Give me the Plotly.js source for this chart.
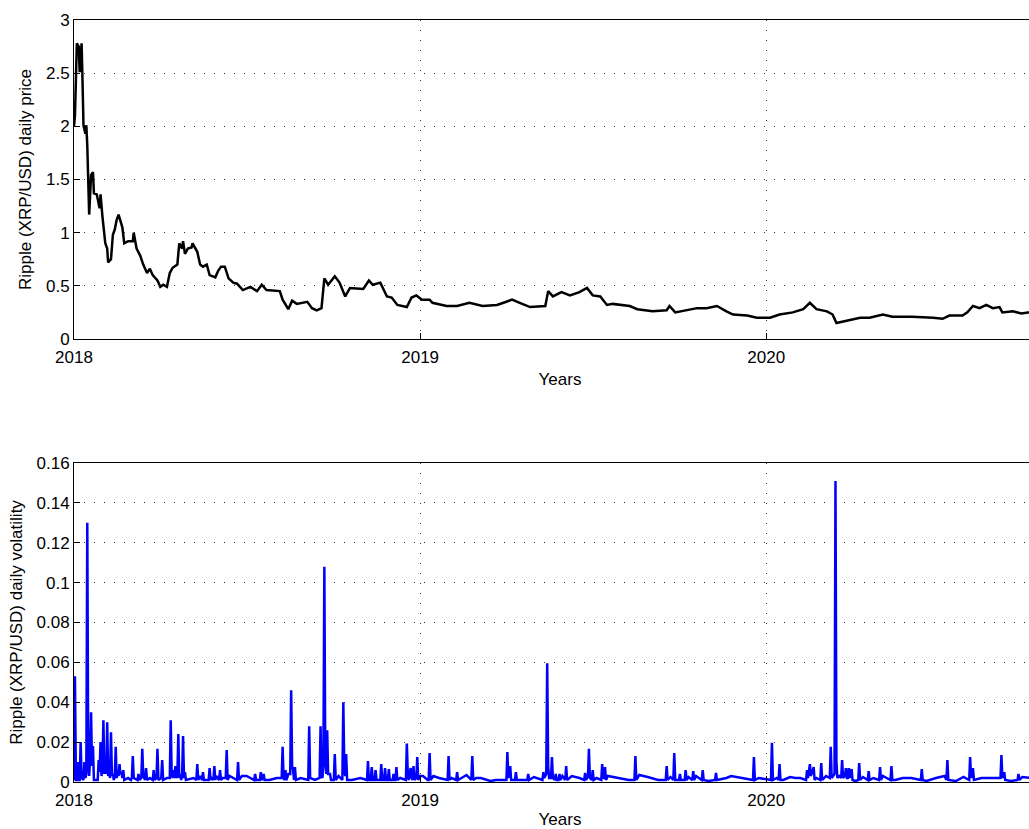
<!DOCTYPE html>
<html>
<head>
<meta charset="utf-8">
<script src="https://cdn.plot.ly/plotly-3.0.1.min.js"></script>
<style>
  html, body { margin: 0; padding: 0; background: #fff; overflow: hidden; }
  #chart { width: 1050px; height: 829px; }
</style>
</head>
<body>
<div id="chart"></div>
<script>
// Days since 2018-01-01 and XRP/USD daily price readings
const priceDays = [0,1,3,5,6,8,9,10,12,13,14,15,16,18,20,21,24,27,28,30,33,35,36,39,41,43,45,47,51,53,57,62,63,66,70,73,77,80,83,88,91,94,98,101,104,109,111,114,115,117,120,124,125,130,133,136,140,143,149,152,155,159,163,168,172,178,186,193,198,203,217,220,226,230,235,246,251,256,261,264,268,275,280,286,291,305,311,315,323,330,335,341,351,356,361,367,375,378,393,404,417,431,446,456,462,470,481,497,500,505,514,523,533,541,547,555,562,568,576,586,594,610,625,628,634,646,657,667,678,688,695,710,720,734,744,758,769,776,783,794,800,804,815,829,839,853,863,884,906,916,923,937,942,948,955,962,969,976,979,990,999,1006,1025];
const priceVals = [2.00,2.10,2.78,2.75,2.51,2.78,2.42,2.01,1.93,2.01,1.82,1.50,1.17,1.54,1.57,1.37,1.36,1.23,1.36,1.15,0.90,0.85,0.72,0.75,0.98,1.03,1.12,1.17,1.05,0.90,0.92,0.92,1.00,0.85,0.78,0.70,0.62,0.66,0.60,0.55,0.49,0.51,0.49,0.62,0.67,0.70,0.90,0.85,0.92,0.80,0.85,0.86,0.90,0.82,0.70,0.68,0.70,0.60,0.58,0.64,0.68,0.68,0.57,0.53,0.52,0.46,0.49,0.45,0.51,0.46,0.45,0.37,0.28,0.36,0.33,0.35,0.29,0.27,0.29,0.57,0.51,0.59,0.53,0.40,0.48,0.47,0.55,0.51,0.53,0.40,0.39,0.32,0.30,0.39,0.41,0.37,0.37,0.34,0.31,0.31,0.34,0.31,0.32,0.35,0.37,0.34,0.30,0.31,0.45,0.40,0.44,0.41,0.44,0.48,0.41,0.40,0.32,0.33,0.32,0.31,0.28,0.26,0.27,0.31,0.25,0.27,0.29,0.29,0.31,0.26,0.23,0.22,0.20,0.20,0.23,0.25,0.28,0.34,0.28,0.26,0.23,0.15,0.17,0.20,0.20,0.23,0.21,0.21,0.20,0.19,0.22,0.22,0.25,0.31,0.29,0.32,0.29,0.30,0.25,0.26,0.24,0.25,0.24];

// Days since 2018-01-01 and daily volatility readings
const volDays = [0,1,2,3,4,5,6,7,8,10,11,12,13,14,15,16,17,18,19,20,21,25,26,27,28,29,30,31,32,33,34,35,36,37,38,39,40,41,42,43,44,45,46,47,48,49,50,51,52,53,57,60,61,62,63,67,68,69,71,72,73,75,76,77,80,83,84,85,87,88,89,92,93,94,98,101,102,103,104,105,106,107,108,109,110,111,112,113,114,115,116,117,118,126,129,130,131,133,135,136,137,142,143,144,145,147,148,149,150,153,154,155,157,160,161,162,164,172,173,174,177,182,190,191,192,196,197,198,200,201,206,214,219,220,221,222,223,224,226,228,229,230,231,232,233,234,239,247,248,249,254,259,260,261,262,263,264,265,266,267,268,270,271,274,275,276,279,283,284,285,286,287,288,293,302,309,310,311,313,314,315,317,318,319,323,324,325,327,328,329,331,332,333,336,337,338,339,340,341,344,350,351,352,353,355,356,357,358,359,361,362,363,365,368,373,374,375,376,379,385,394,395,396,398,403,404,405,414,419,420,421,424,429,439,445,451,456,457,458,460,461,465,466,467,471,478,479,480,485,494,495,496,498,499,500,501,503,504,505,507,508,509,511,512,513,515,518,519,520,525,533,538,539,540,542,543,544,546,547,548,551,556,557,558,559,560,561,563,574,585,591,592,593,596,605,616,624,625,626,629,632,633,634,638,639,640,644,645,646,648,652,653,654,656,662,663,664,669,676,677,678,688,693,706,716,717,718,722,732,735,736,737,741,743,744,745,748,755,761,766,772,773,774,776,777,780,781,783,787,788,789,793,797,798,799,801,802,803,804,805,807,809,810,811,813,814,815,816,817,818,820,821,824,827,828,829,832,837,838,839,843,849,850,851,853,861,862,863,866,874,883,893,894,895,899,909,918,920,921,922,930,938,944,945,946,948,949,957,964,971,977,978,979,981,982,988,995,996,997,1000,1025];
const volVals = [0.001,0.053,0.001,0.001,0.010,0.001,0.001,0.020,0.002,0.001,0.010,0.002,0.004,0.130,0.010,0.003,0.012,0.035,0.008,0.018,0.001,0.001,0.011,0.005,0.020,0.003,0.008,0.031,0.004,0.011,0.004,0.030,0.003,0.005,0.002,0.025,0.003,0.004,0.001,0.003,0.0177,0.002,0.004,0.003,0.009,0.004,0.005,0.002,0.006,0.001,0.002,0.001,0.002,0.013,0.002,0.001,0.004,0.001,0.002,0.0167,0.003,0.001,0.007,0.001,0.002,0.001,0.006,0.001,0.002,0.0167,0.001,0.002,0.011,0.001,0.002,0.002,0.031,0.004,0.002,0.006,0.002,0.008,0.002,0.003,0.024,0.002,0.004,0.001,0.003,0.023,0.002,0.005,0.001,0.002,0.001,0.009,0.001,0.003,0.001,0.005,0.001,0.001,0.007,0.001,0.002,0.001,0.008,0.001,0.003,0.001,0.006,0.001,0.002,0.002,0.016,0.001,0.003,0.001,0.010,0.001,0.003,0.003,0.001,0.004,0.001,0.001,0.005,0.001,0.004,0.001,0.001,0.002,0.002,0.0177,0.002,0.001,0.006,0.001,0.004,0.004,0.046,0.008,0.006,0.001,0.0075,0.001,0.002,0.001,0.028,0.002,0.001,0.002,0.028,0.003,0.002,0.010,0.108,0.010,0.004,0.026,0.004,0.004,0.001,0.001,0.014,0.001,0.003,0.001,0.040,0.008,0.003,0.014,0.001,0.001,0.002,0.001,0.0105,0.001,0.001,0.0075,0.001,0.001,0.006,0.001,0.001,0.009,0.001,0.001,0.007,0.001,0.001,0.0065,0.001,0.001,0.004,0.001,0.001,0.0075,0.001,0.002,0.001,0.0193,0.004,0.001,0.007,0.002,0.001,0.008,0.001,0.002,0.0125,0.001,0.003,0.003,0.001,0.001,0.0145,0.001,0.003,0.002,0.001,0.013,0.001,0.002,0.001,0.005,0.001,0.0035,0.001,0.013,0.001,0.002,0.002,0.0005,0.001,0.001,0.001,0.015,0.002,0.008,0.001,0.001,0.005,0.001,0.001,0.001,0.004,0.001,0.0025,0.001,0.005,0.002,0.004,0.0595,0.008,0.002,0.002,0.0125,0.002,0.001,0.004,0.001,0.001,0.004,0.001,0.003,0.001,0.008,0.001,0.003,0.002,0.001,0.0045,0.001,0.003,0.0167,0.002,0.001,0.006,0.001,0.002,0.001,0.009,0.002,0.002,0.0075,0.001,0.003,0.002,0.001,0.001,0.013,0.001,0.0035,0.0025,0.001,0.001,0.008,0.001,0.0025,0.001,0.0145,0.001,0.001,0.004,0.001,0.001,0.006,0.001,0.0025,0.001,0.0055,0.001,0.003,0.001,0.006,0.001,0.0005,0.001,0.0045,0.001,0.002,0.003,0.002,0.001,0.0125,0.001,0.002,0.001,0.001,0.0197,0.001,0.002,0.001,0.009,0.001,0.001,0.0025,0.002,0.002,0.001,0.006,0.002,0.009,0.003,0.0075,0.001,0.002,0.001,0.0095,0.001,0.003,0.002,0.0177,0.002,0.003,0.004,0.151,0.010,0.002,0.003,0.002,0.011,0.002,0.003,0.007,0.002,0.002,0.007,0.002,0.0065,0.001,0.0005,0.001,0.0095,0.001,0.0025,0.001,0.0055,0.001,0.002,0.001,0.0075,0.001,0.003,0.001,0.008,0.001,0.001,0.002,0.002,0.001,0.0065,0.001,0.0005,0.002,0.003,0.001,0.011,0.001,0.0005,0.0025,0.001,0.0125,0.002,0.007,0.001,0.002,0.002,0.002,0.002,0.0135,0.002,0.005,0.001,0.0005,0.001,0.004,0.001,0.0025,0.001];

const priceTicks = [0,0.5,1,1.5,2,2.5,3];
const volTicks = [0,0.02,0.04,0.06,0.08,0.1,0.12,0.14,0.16];
const yearTicks = ['2018-01-01','2019-01-01','2020-01-01'];
const yearLabels = ['2018','2019','2020'];

const start = Date.UTC(2018,0,1);
const toDate = d => new Date(start + d*86400000).toISOString().slice(0,10);
const xRange = ['2018-01-01', toDate(1025)];

const font = {family: '"Liberation Sans", Arial, Helvetica, sans-serif', size: 17, color: '#000'};

function xAxis(anchor) {
  return {
    anchor: anchor, type: 'date', range: xRange,
    tickmode: 'array', tickvals: yearTicks, ticktext: yearLabels,
    ticks: 'inside', ticklen: 6, tickcolor: '#000', tickwidth: 1,
    ticklabelstandoff: 3,
    showline: true, linecolor: '#000', linewidth: 1, mirror: true,
    showgrid: true, gridcolor: '#333', griddash: '1px,9px', gridwidth: 1,
    zeroline: false, automargin: false,
    tickfont: font,
    title: {text: 'Years', font: font, standoff: 6}
  };
}
function yAxis(anchor, rng, ticks, label, title) {
  return {
    anchor: anchor, range: rng, tickmode: 'array', tickvals: ticks, ticktext: label,
    ticks: 'inside', ticklen: 6, tickcolor: '#000', tickwidth: 1,
    showline: true, linecolor: '#000', linewidth: 1, mirror: true,
    showgrid: true, gridcolor: '#333', griddash: '1px,9px', gridwidth: 1,
    zeroline: false, automargin: false,
    tickfont: font,
    title: {text: title, font: font, standoff: 9}
  };
}

const data = [
  {x: priceDays.map(toDate), y: priceVals, type: 'scatter', mode: 'lines',
   line: {color: '#000', width: 2.5}, xaxis: 'x', yaxis: 'y', hoverinfo: 'x+y'},
  {x: volDays.map(toDate), y: volVals, type: 'scatter', mode: 'lines',
   line: {color: '#0000ff', width: 2.5}, xaxis: 'x2', yaxis: 'y2', hoverinfo: 'x+y'}
];

const layout = {
  width: 1050, height: 829,
  margin: {l: 74, r: 4, t: 0, b: 0},
  paper_bgcolor: '#fff', plot_bgcolor: '#fff',
  showlegend: false, font: font,
  xaxis: Object.assign(xAxis('y'), {domain: [0,1]}),
  yaxis: Object.assign(yAxis('x', [0,3], priceTicks, priceTicks.map(String), 'Ripple (XRP/USD) daily price'), {domain: [0.5911, 0.9759]}),
  xaxis2: Object.assign(xAxis('y2'), {domain: [0,1]}),
  yaxis2: Object.assign(yAxis('x2', [0,0.16], volTicks, volTicks.map(String), 'Ripple (XRP/USD) daily volatility'), {domain: [0.0567, 0.4415]})
};

Plotly.newPlot('chart', data, layout, {displayModeBar: false, staticPlot: true});
</script>
</body>
</html>
